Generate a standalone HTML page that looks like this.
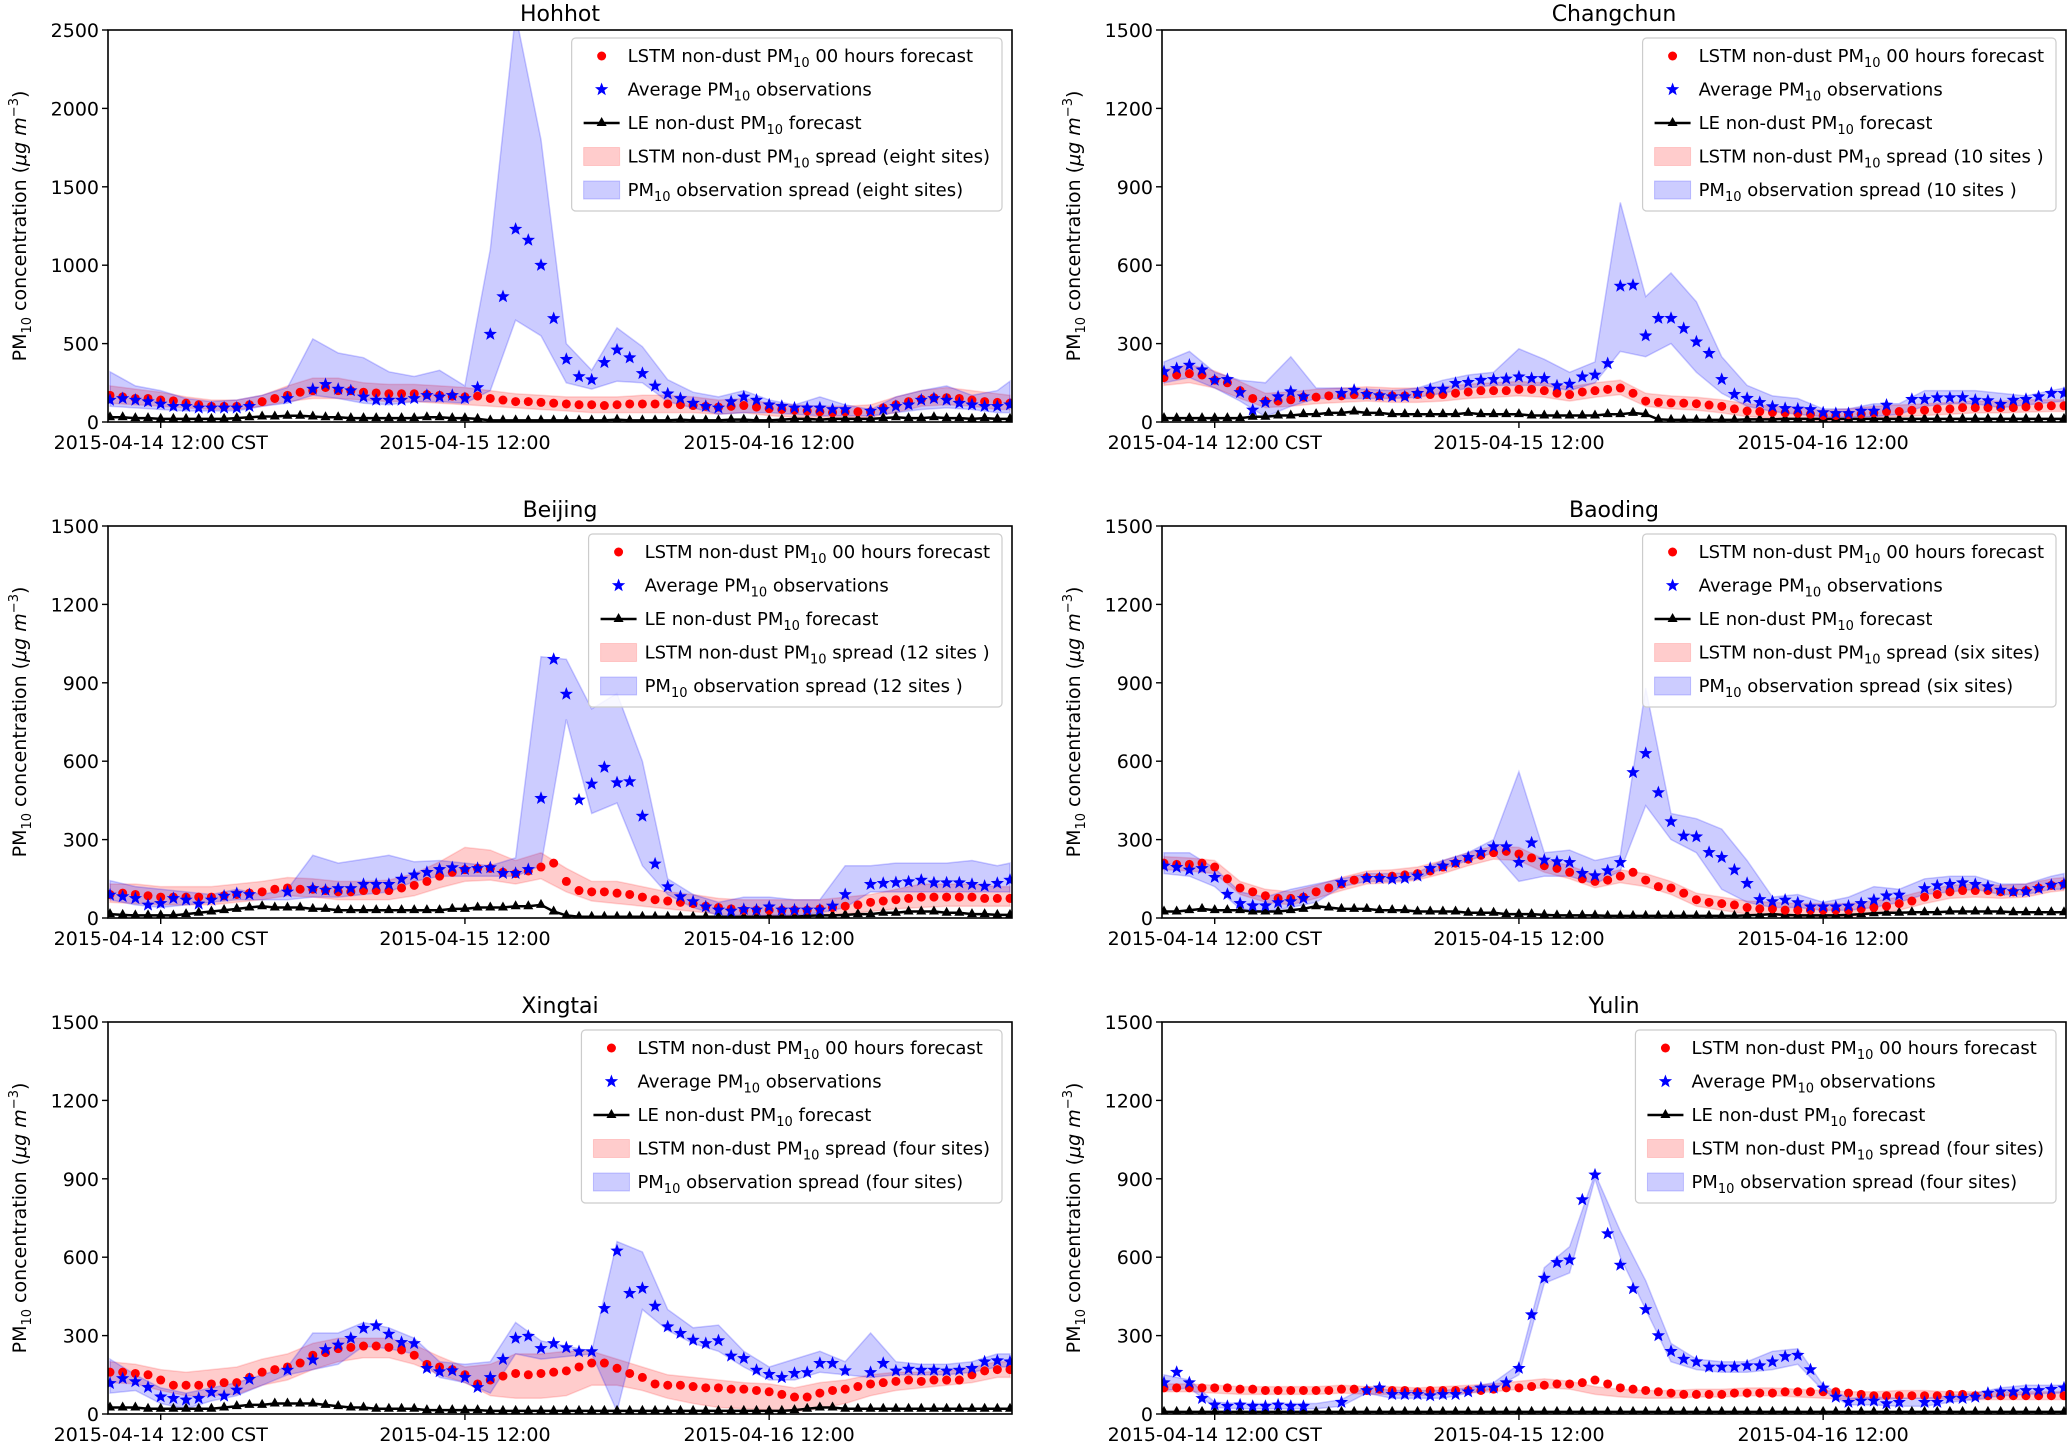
<!DOCTYPE html>
<html><head><meta charset="utf-8"><style>
html,body{margin:0;padding:0;background:#fff;}
svg{display:block;font-family:"DejaVu Sans","Liberation Sans",sans-serif;}
</style></head><body>
<svg id="fig" width="2067" height="1444" viewBox="0 0 2067 1444" xmlns="http://www.w3.org/2000/svg"></svg>
<script>
const xTickIdx=[4,28,52];
const xTickLabels=["2015-04-14 12:00 CST","2015-04-15 12:00","2015-04-16 12:00"];
const cities=["Hohhot","Changchun","Beijing","Baoding","Xingtai","Yulin"];
const siteLabels=["eight sites","10 sites ","12 sites ","six sites","four sites","four sites"];

const hohhotObs=[140,150,140,130,115,100,100,90,90,90,90,100,null,null,150,null,210,240,210,200,160,140,140,140,150,170,160,170,150,220,560,800,1230,1160,1000,660,400,290,270,380,460,410,310,230,180,150,120,100,90,130,160,140,110,100,90,90,90,80,80,null,70,80,100,110,140,150,140,120,110,100,100,110];
const hohhotLstm=[170,160,150,150,140,135,120,110,100,100,100,110,130,150,170,190,200,220,200,200,190,185,180,180,180,175,170,165,160,165,150,140,130,130,125,120,115,110,110,105,110,115,115,115,115,110,105,100,95,100,105,95,85,80,75,70,65,60,65,65,65,90,110,130,145,155,155,150,140,130,125,120];
const hohhotLE=[30,30,25,25,20,20,20,20,20,20,25,30,35,35,40,40,35,30,30,25,25,25,25,25,25,30,30,25,25,20,10,10,10,10,10,10,10,10,10,10,15,10,10,10,10,15,10,10,10,15,15,10,10,15,20,20,15,20,20,20,20,25,30,25,25,30,25,25,20,25,20,20];
const hohhotObsLo=[100,90,80,70,70,70,100,120,170,150,120,110,130,130,120,200,650,550,250,210,260,250,130,90,50,60,60,50,40,40,40,60,80,90,80,60,60];
const hohhotObsHi=[320,230,200,150,130,140,170,220,530,440,410,320,290,330,230,1100,2600,1800,500,330,600,480,270,190,160,200,140,110,160,110,80,160,200,230,170,200,260];
const hohhotLstmLo=[120,110,100,90,80,80,100,130,150,150,140,130,130,120,110,100,90,80,70,60,60,60,60,60,50,60,40,30,30,30,30,60,100,110,100,80,80];
const hohhotLstmHi=[230,210,190,160,140,140,170,230,280,280,250,240,240,230,220,200,180,170,160,160,160,170,170,160,140,150,120,110,100,100,110,160,200,220,200,180,170];

const changchunObs=[193,205,218,200,160,163,113,46,75,97,116,97,null,null,110,122,106,101,97,97,110,126,126,148,152,160,163,165,173,167,167,139,145,173,180,224,520,524,330,397,397,358,307,263,163,106,91,75,59,52,50,48,36,33,33,42,42,65,null,87,87,93,93,94,84,82,68,84,87,97,110,110];
const changchunLstm=[170,180,185,180,160,150,120,90,80,80,85,95,95,100,100,105,105,100,100,100,105,105,105,110,115,120,120,120,125,125,120,110,105,115,120,125,130,110,80,75,73,72,70,65,60,50,42,40,37,35,33,30,25,25,28,30,35,40,40,45,45,50,50,55,55,55,55,55,58,60,62,62];
const changchunLE=[15,15,15,15,15,15,15,20,20,25,25,30,30,35,35,40,35,35,30,30,30,30,30,30,35,30,30,30,30,25,25,25,25,25,25,30,30,35,30,10,8,8,8,8,8,8,10,10,10,12,12,12,12,12,12,12,12,12,12,12,12,12,12,12,12,12,12,12,12,12,12,12];
const changchunObsLo=[150,170,130,80,20,60,90,90,90,90,95,110,130,140,140,140,120,150,270,250,300,190,110,60,40,30,20,20,20,30,60,70,70,55,65,75,80];
const changchunObsHi=[230,270,190,160,150,250,130,130,125,120,130,160,180,190,280,240,190,230,840,480,570,460,250,140,100,90,50,50,70,70,120,120,120,110,100,120,130];
const changchunLstmLo=[140,150,130,90,55,60,70,75,80,75,75,80,90,95,100,95,80,95,105,60,50,45,35,20,15,10,5,8,15,20,25,30,35,35,38,40,40];
const changchunLstmHi=[200,220,195,155,110,115,125,130,135,130,130,135,145,150,155,150,135,150,160,110,100,95,85,70,60,55,45,50,60,65,70,75,80,80,85,85,85];

const beijingObs=[88,82,75,50,56,75,69,54,69,84,94,90,null,null,100,null,113,107,113,113,129,129,129,149,165,175,186,193,186,190,193,171,171,186,458,990,857,452,513,577,518,522,390,207,120,82,63,43,31,27,33,31,43,31,31,31,31,46,90,null,129,133,136,139,145,135,135,135,129,122,133,145];
const beijingLstm=[90,95,90,85,80,80,80,80,80,85,90,95,100,110,115,110,110,105,100,100,105,105,105,115,125,140,160,175,185,190,190,175,170,180,195,210,140,105,100,100,95,90,80,70,65,60,55,45,40,35,30,30,30,30,30,30,35,40,45,50,60,65,70,75,80,80,80,80,80,75,75,75];
const beijingLE=[15,12,10,10,10,10,15,20,25,30,35,40,45,40,40,40,35,35,30,30,30,30,30,30,30,30,30,35,35,40,40,40,45,45,50,25,10,5,5,5,5,5,5,5,5,5,5,5,5,5,5,5,5,5,5,8,10,10,12,15,15,20,20,25,25,25,20,20,15,15,12,12];
const beijingObsLo=[70,50,40,50,60,70,70,70,80,80,90,100,140,160,160,160,160,200,760,400,440,200,90,40,10,5,10,10,20,40,100,100,100,100,100,100,100];
const beijingObsHi=[143,120,110,100,90,110,90,110,240,210,225,240,215,220,210,200,230,1000,990,800,860,600,150,90,60,80,80,70,70,200,200,210,210,210,220,200,210];
const beijingLstmLo=[60,55,50,50,50,60,70,85,80,70,70,70,85,115,140,145,130,150,100,65,55,45,35,25,15,10,10,10,10,15,25,35,40,45,45,45,45];
const beijingLstmHi=[130,130,120,120,120,130,140,155,150,140,140,145,170,215,270,260,220,250,190,140,140,120,100,90,75,70,70,70,70,80,90,110,130,130,130,120,120];

const baodingObs=[199,194,184,190,156,91,56,47,47,59,63,75,null,null,136,null,152,152,149,152,161,190,199,213,232,251,273,273,213,288,222,216,213,171,162,181,213,557,630,480,369,314,311,251,232,184,133,71,63,69,59,43,43,43,46,56,69,85,88,null,113,124,129,135,129,120,107,101,101,113,126,129];
const baodingLstm=[210,205,205,210,195,150,115,100,85,75,75,80,100,115,130,145,155,155,160,165,170,180,195,210,225,240,250,255,245,230,200,190,175,150,140,145,160,175,145,120,115,95,70,60,55,50,40,35,35,30,30,30,30,30,30,35,40,45,55,65,80,90,100,105,105,105,100,100,105,115,125,130];
const baodingLE=[25,25,30,35,30,30,30,25,25,25,30,35,45,40,35,35,35,30,30,30,25,25,25,25,20,20,20,15,15,15,12,10,10,10,10,8,8,8,8,8,8,8,8,8,8,8,10,12,15,12,10,10,10,10,12,15,18,20,20,22,22,22,25,25,25,25,25,22,22,22,22,22];
const baodingObsLo=[170,160,120,35,25,40,60,120,140,140,150,190,220,250,140,160,160,130,180,430,300,250,110,60,40,40,30,30,40,60,90,100,110,90,90,110,110];
const baodingObsHi=[250,250,190,100,80,110,130,150,170,170,175,220,250,300,560,250,260,220,240,880,400,380,340,220,80,90,60,80,120,110,150,160,160,130,130,160,170];
const baodingLstmLo=[185,180,170,90,60,50,75,105,130,135,145,170,200,225,220,175,150,115,135,120,90,45,30,15,10,5,5,5,15,30,55,75,80,75,80,100,105];
const baodingLstmHi=[235,230,220,140,110,100,125,155,180,185,195,220,250,275,270,225,200,165,185,170,140,95,80,65,60,55,55,55,65,80,105,125,130,125,130,150,155];

const xingtaiObs=[117,136,124,102,66,60,54,60,83,69,92,133,null,null,168,null,207,247,264,290,328,338,306,274,270,175,162,166,140,102,140,209,290,298,251,270,254,239,239,404,624,462,481,413,334,309,283,270,281,222,213,168,152,140,156,159,194,194,166,null,159,194,165,172,168,168,165,168,175,200,204,200];
const xingtaiLstm=[160,160,155,150,130,110,110,110,115,120,120,140,160,170,180,195,225,235,250,255,260,260,255,245,225,190,180,170,150,115,130,145,155,150,155,160,165,180,195,195,175,155,140,115,110,110,105,100,100,95,95,90,85,75,65,65,80,90,95,105,115,120,125,130,125,130,130,130,150,165,170,170];
const xingtaiLE=[25,25,25,20,20,20,20,20,20,25,30,35,35,40,40,40,40,35,30,25,25,20,20,20,20,15,15,15,15,15,12,12,12,12,12,12,12,12,12,12,12,12,12,12,12,12,12,12,12,12,12,12,12,12,15,20,25,25,20,20,20,20,20,20,20,20,20,20,20,20,20,20];
const xingtaiObsLo=[80,90,40,20,50,70,110,150,170,190,260,250,230,140,120,80,230,210,220,230,10,400,320,270,240,180,130,130,160,150,140,150,150,150,160,180,180];
const xingtaiObsHi=[210,150,100,80,100,120,150,180,310,310,350,330,290,200,190,200,350,280,260,240,660,620,400,330,340,240,180,210,240,200,310,200,190,190,200,230,230];
const xingtaiLstmLo=[120,115,90,70,70,75,110,130,170,200,215,215,190,150,120,70,60,60,70,110,110,90,60,40,25,20,15,10,20,40,70,90,100,110,120,140,140];
const xingtaiLstmHi=[200,190,170,160,170,180,210,230,270,290,290,290,265,220,180,190,230,230,240,240,210,180,150,140,130,120,115,100,120,130,150,160,160,165,180,200,200];

const yulinObs=[120,160,120,60,35,30,35,30,30,35,30,30,null,null,45,null,90,100,75,75,75,70,75,75,85,100,100,120,175,380,520,580,590,820,915,690,570,480,400,300,240,210,200,180,180,180,185,185,200,220,225,170,100,65,45,50,50,40,45,null,45,45,60,60,65,80,85,85,90,90,95,100];
const yulinLstm=[100,100,100,100,100,100,95,95,90,90,90,90,90,90,95,95,90,95,90,90,85,90,90,90,90,90,95,100,100,105,110,115,115,120,130,115,100,95,90,85,80,75,75,75,75,80,80,80,80,85,85,85,85,85,80,75,70,70,70,70,70,70,75,75,70,70,70,70,70,70,70,70];
const yulinLE=[8,8,8,8,8,8,8,8,8,8,8,8,8,8,8,8,8,8,8,8,8,8,8,8,8,8,8,8,8,8,8,8,8,8,8,8,8,8,8,8,8,8,8,8,8,8,8,8,8,8,8,8,8,8,8,8,8,8,8,8,8,8,8,8,8,8,8,8,8,8,8,8];
const yulinObsLo=[90,100,25,20,20,20,20,30,80,60,60,60,80,95,150,500,540,900,600,400,200,170,160,160,170,190,90,35,35,30,30,45,55,70,75,80,80];
const yulinObsHi=[150,130,45,40,40,40,40,55,105,90,90,90,100,120,190,560,640,920,700,510,270,210,200,200,240,250,110,60,65,60,60,70,80,100,110,110,110];
const yulinLstmLo=[85,85,80,75,75,75,75,80,75,75,70,75,80,85,95,100,95,75,65,60,60,65,65,70,70,65,60,55,55,60,60,55,55,55,55,55,55];
const yulinLstmHi=[115,115,110,105,105,105,105,110,105,105,100,105,110,115,125,135,125,105,95,90,90,95,95,100,100,95,90,85,85,90,90,85,85,85,85,85,85];

const NS="http://www.w3.org/2000/svg";
const svg=document.getElementById('fig');
function mk(tag,attrs,parent){const e=document.createElementNS(NS,tag);for(const k in attrs)e.setAttribute(k,attrs[k]);(parent||svg).appendChild(e);return e;}
function starPath(cx,cy,R){let d="";const r=R*0.42;for(let k=0;k<10;k++){const rr=k%2?r:R;const a=-Math.PI/2+k*Math.PI/5;d+=(k?"L":"M")+(cx+rr*Math.cos(a)).toFixed(1)+","+(cy+rr*Math.sin(a)).toFixed(1);}return d+"Z";}

const panels=[
 {x0:108,y0:30,ymax:2500,ticks:[0,500,1000,1500,2000,2500],obs:hohhotObs,lstm:hohhotLstm,le:hohhotLE,oLo:hohhotObsLo,oHi:hohhotObsHi,lLo:hohhotLstmLo,lHi:hohhotLstmHi},
 {x0:1162,y0:30,ymax:1500,ticks:[0,300,600,900,1200,1500],obs:changchunObs,lstm:changchunLstm,le:changchunLE,oLo:changchunObsLo,oHi:changchunObsHi,lLo:changchunLstmLo,lHi:changchunLstmHi},
 {x0:108,y0:526,ymax:1500,ticks:[0,300,600,900,1200,1500],obs:beijingObs,lstm:beijingLstm,le:beijingLE,oLo:beijingObsLo,oHi:beijingObsHi,lLo:beijingLstmLo,lHi:beijingLstmHi},
 {x0:1162,y0:526,ymax:1500,ticks:[0,300,600,900,1200,1500],obs:baodingObs,lstm:baodingLstm,le:baodingLE,oLo:baodingObsLo,oHi:baodingObsHi,lLo:baodingLstmLo,lHi:baodingLstmHi},
 {x0:108,y0:1022,ymax:1500,ticks:[0,300,600,900,1200,1500],obs:xingtaiObs,lstm:xingtaiLstm,le:xingtaiLE,oLo:xingtaiObsLo,oHi:xingtaiObsHi,lLo:xingtaiLstmLo,lHi:xingtaiLstmHi},
 {x0:1162,y0:1022,ymax:1500,ticks:[0,300,600,900,1200,1500],obs:yulinObs,lstm:yulinLstm,le:yulinLE,oLo:yulinObsLo,oHi:yulinObsHi,lLo:yulinLstmLo,lHi:yulinLstmHi}
];
const W=904,H=392,N=71;

panels.forEach((p,pi)=>{
  const slug=cities[pi].toLowerCase();
  const g=mk('g',{});
  
  
  const xs=i=>p.x0+2+i*(W-4)/N;
  const ys=v=>p.y0+H-v/p.ymax*H;
  const bidx=k=>Math.min(2*k,N);
  const clipId='clip'+pi;
  const cp=mk('clipPath',{id:clipId},g);
  mk('rect',{x:p.x0,y:p.y0,width:W,height:H},cp);
  const plot=mk('g',{'clip-path':'url(#'+clipId+')'},g);
  
  
  function band(lo,hi,fill,stroke,name){
    let d="";
    for(let k=0;k<hi.length;k++)d+=(k?"L":"M")+xs(bidx(k)).toFixed(1)+","+ys(hi[k]).toFixed(1);
    for(let k=lo.length-1;k>=0;k--)d+="L"+xs(bidx(k)).toFixed(1)+","+ys(lo[k]).toFixed(1);
    const e=mk('path',{d:d+"Z",fill:fill,stroke:stroke,'stroke-width':1.5},plot);
    
    
  }
  band(p.lLo,p.lHi,'rgba(255,0,0,0.2)','rgba(255,0,0,0.15)',slug+'-lstm-spread');
  band(p.oLo,p.oHi,'rgba(0,0,255,0.2)','rgba(0,0,255,0.2)',slug+'-obs-spread');
  let d="";
  p.le.forEach((v,i)=>{d+=(i?"L":"M")+xs(i).toFixed(1)+","+ys(v).toFixed(1);});
  const leLine=mk('path',{d:d,fill:'none',stroke:'#000','stroke-width':2.5},plot);
  
  
  p.le.forEach((v,i)=>{const x=xs(i),y=ys(v);
    const t=mk('path',{d:`M${x},${y-6}L${x+5},${y+3}L${x-5},${y+3}Z`,fill:'#000'},plot);
    
    });
  p.lstm.forEach((v,i)=>{
    const c=mk('circle',{cx:xs(i),cy:ys(v),r:4.5,fill:'#ff0000'},plot);
    
    });
  p.obs.forEach((v,i)=>{if(v===null)return;
    const s=mk('path',{d:starPath(xs(i),ys(v),7),fill:'#0000ff'},plot);
    
    });
  // frame
  const fr=mk('rect',{x:p.x0,y:p.y0,width:W,height:H,fill:'none',stroke:'#000','stroke-width':1.6},g);
  
  
  // y ticks
  p.ticks.forEach(t=>{const y=ys(t);
    mk('line',{x1:p.x0-6,x2:p.x0,y1:y,y2:y,stroke:'#000','stroke-width':1.4},g);
    const tl=mk('text',{x:p.x0-9,y:y+7,'text-anchor':'end','font-size':19,fill:'#000'},g);
    tl.textContent=t;
    
    });
  // x ticks
  xTickIdx.forEach((ti,k)=>{const x=xs(ti);
    mk('line',{x1:x,x2:x,y1:p.y0+H,y2:p.y0+H+6,stroke:'#000','stroke-width':1.4},g);
    const tl=mk('text',{x:x,y:p.y0+H+27,'text-anchor':'middle','font-size':19,fill:'#000'},g);
    tl.textContent=xTickLabels[k];
    
    });
  // title
  const ti=mk('text',{x:p.x0+W/2,y:p.y0-9,'text-anchor':'middle','font-size':22,fill:'#000'},g);
  ti.textContent=cities[pi];
  
  
  // y label
  const yl=mk('text',{transform:`translate(${p.x0-82},${p.y0+H/2}) rotate(-90)`,'text-anchor':'middle','font-size':19,fill:'#000'},g);
  
  
  yl.innerHTML='PM<tspan font-size="13" dy="5">10</tspan><tspan dy="-5"> concentration (</tspan><tspan font-style="italic">μg m</tspan><tspan font-size="13" dy="-8">−3</tspan><tspan dy="8">)</tspan>';
  // legend
  const lg=mk('g',{},g);
  
  
  const box=mk('rect',{y:p.y0+8,height:173,rx:4,fill:'rgba(255,255,255,0.85)',stroke:'#ccc','stroke-width':1.2},lg);
  const site=siteLabels[pi];
  const entries=[
    'LSTM non-dust PM<tspan font-size="13" dy="5">10</tspan><tspan dy="-5"> 00 hours forecast</tspan>',
    'Average PM<tspan font-size="13" dy="5">10</tspan><tspan dy="-5"> observations</tspan>',
    'LE non-dust PM<tspan font-size="13" dy="5">10</tspan><tspan dy="-5"> forecast</tspan>',
    'LSTM non-dust PM<tspan font-size="13" dy="5">10</tspan><tspan dy="-5"> spread ('+site+')</tspan>',
    'PM<tspan font-size="13" dy="5">10</tspan><tspan dy="-5"> observation spread ('+site+')</tspan>'
  ];
  const texts=[];let maxW=0;
  entries.forEach((h,k)=>{const t=mk('text',{x:0,y:p.y0+26+k*33.5+6,'font-size':18,fill:'#000'},lg);
    t.innerHTML=h;
    
    
    texts.push(t);maxW=Math.max(maxW,t.getComputedTextLength());});
  const bw=maxW+68, bx=p.x0+W-10-bw;
  box.setAttribute('x',bx);box.setAttribute('width',bw);
  const tx=bx+56;
  texts.forEach(t=>t.setAttribute('x',tx));
  const hx=bx+12, cy=k=>p.y0+26+k*33.5;
  mk('circle',{cx:hx+18,cy:cy(0),r:4.5,fill:'#ff0000'},lg);
  mk('path',{d:starPath(hx+18,cy(1),7),fill:'#0000ff'},lg);
  mk('line',{x1:hx,x2:hx+36,y1:cy(2),y2:cy(2),stroke:'#000','stroke-width':2.5},lg);
  mk('path',{d:`M${hx+18},${cy(2)-6}L${hx+23},${cy(2)+3}L${hx+13},${cy(2)+3}Z`,fill:'#000'},lg);
  mk('rect',{x:hx,y:cy(3)-9,width:36,height:18,fill:'rgba(255,0,0,0.2)',stroke:'rgba(255,0,0,0.15)'},lg);
  mk('rect',{x:hx,y:cy(4)-9,width:36,height:18,fill:'rgba(0,0,255,0.2)',stroke:'rgba(0,0,255,0.2)'},lg);
});
</script>
</body></html>
